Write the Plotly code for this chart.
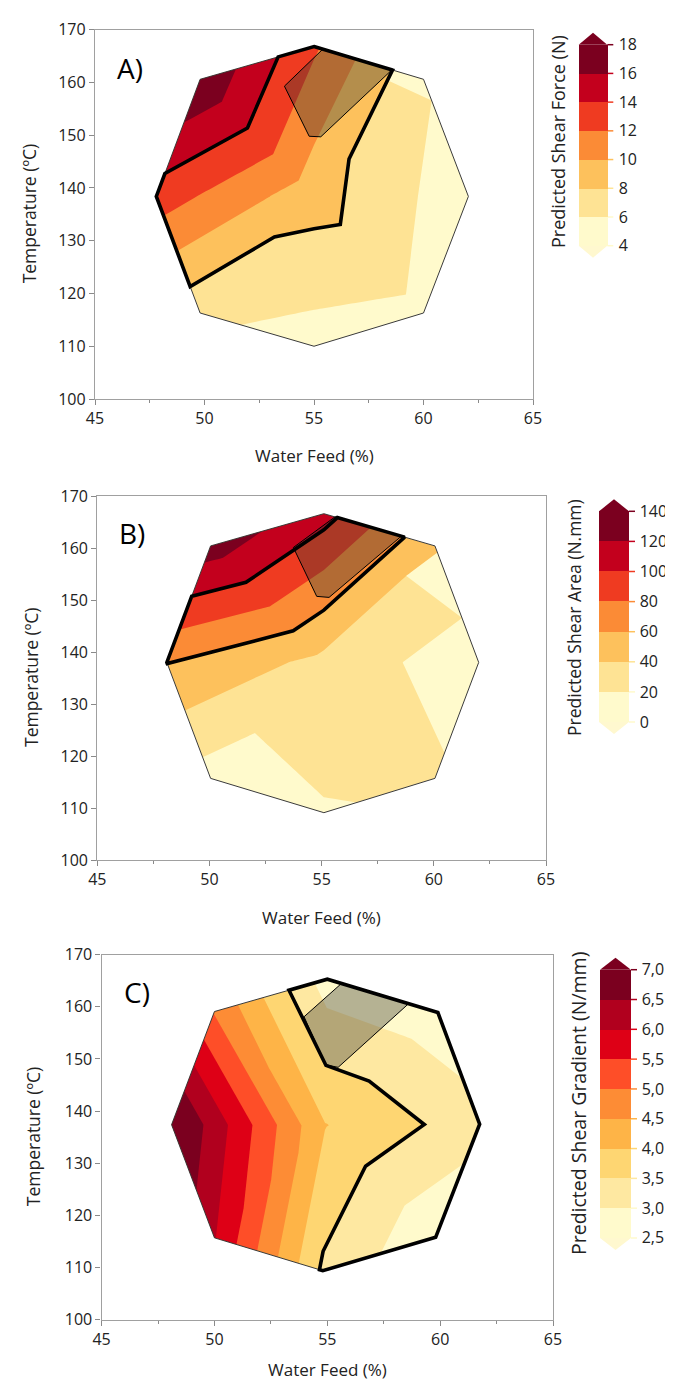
import plotly.graph_objects as go
from collections import defaultdict

W, H = 673, 1379

# ---------------- data ----------------
# design-region vertices, clockwise from the top: T, UR, R, LR, B, LL, L, UL
a_vertex_x = [55.0, 60.0, 62.05, 60.0, 55.0, 49.8, 47.8, 49.8]
a_vertex_y = [166.8, 160.6, 138.4, 116.3, 110.0, 116.3, 138.4, 160.6]
a_center_x, a_center_y = 55.0, 138.4
a_force_vertex = [12.3, 6.3, 4.64, 5.47, 5.1, 6.5, 13.1, 17.7]
a_force_center = 8.8
a_levels = [4, 6, 8, 10, 12, 14, 16, 18]
a_tick_text = ["4", "6", "8", "10", "12", "14", "16", "18"]
a_window = [8, 14]
a_limit_x = [53.65, 55.4, 58.56, 55.31, 54.78]
a_limit_y = [159.3, 166.3, 162.4, 149.7, 149.8]

b_vertex_x = [55.1, 60.05, 62.0, 60.05, 55.1, 50.05, 48.1, 50.05]
b_vertex_y = [166.6, 160.4, 138.0, 115.7, 109.1, 115.7, 138.0, 160.4]
b_center_x, b_center_y = 55.1, 138.0
b_area_vertex = [108, 42, 6.5, 23.8, 18.4, 11, 60.5, 130]
b_area_center = 34
b_levels = [0, 20, 40, 60, 80, 100, 120, 140]
b_tick_text = ["0", "20", "40", "60", "80", "100", "120", "140"]
b_window = [60, 100]
b_limit_x = [53.74, 55.6, 58.56, 55.33, 54.78]
b_limit_y = [160.1, 166.0, 162.3, 150.5, 150.7]

c_vertex_x = [55.0, 59.9, 61.75, 59.8, 54.8, 50.0, 48.1, 50.0]
c_vertex_y = [165.3, 158.9, 137.5, 115.8, 109.4, 115.7, 137.4, 159.1]
c_center_x, c_center_y = 54.9, 137.3
c_grad_vertex = [2.75, 2.69, 3.21, 2.6, 3.42, 6.03, 7.15, 4.96]
c_grad_center = 4.02
c_levels = [2.5, 3.0, 3.5, 4.0, 4.5, 5.0, 5.5, 6.0, 6.5, 7.0]
c_tick_text = ["2,5", "3,0", "3,5", "4,0", "4,5", "5,0", "5,5", "6,0", "6,5", "7,0"]
c_window = [None, 3.5]
c_limit_x = [53.97, 55.62, 58.6, 55.48, 54.92]
c_limit_y = [158.1, 164.45, 160.6, 148.4, 148.9]

x_ticks = [45, 50, 55, 60, 65]
y_ticks = [100, 110, 120, 130, 140, 150, 160, 170]

# ---------------- styles ----------------
band7 = ['#fffacc', '#fee394', '#fdc15c', '#fb8b36', '#ef3b21', '#c3001d', '#7b001f']
band9 = ['#fffacc', '#fee8a1', '#fed672', '#feb447', '#fd8c35', '#fe4e28',
         '#de0016', '#b1001e', '#7b001f']
below_col = '#fff8cf'
above_col = '#7b001f'
FONT = "Open Sans"

panels = [
    dict(key='A', vx=a_vertex_x, vy=a_vertex_y, cx=a_center_x, cy=a_center_y,
         vz=a_force_vertex, cz=a_force_center, levels=a_levels, ticktext=a_tick_text,
         window=a_window, gx=a_limit_x, gy=a_limit_y, bands=band7,
         title='Predicted Shear Force (N)', label='A)',
         plot=(87, 525, 21.7, 391), cbar=(570.7, 28.6, 36.7, 237.7),
         cbt=(550, 134, 18), ytitle_x=21, xtitle_dy=57),
    dict(key='B', vx=b_vertex_x, vy=b_vertex_y, cx=b_center_x, cy=b_center_y,
         vz=b_area_vertex, cz=b_area_center, levels=b_levels, ticktext=b_tick_text,
         window=b_window, gx=b_limit_x, gy=b_limit_y, bands=band7,
         title='Predicted Shear Area (N.mm)', label='B)',
         plot=(89.3, 538, 488, 852), cbar=(591, 30, 503.3, 714),
         cbt=(566, 610, 17.5), ytitle_x=23, xtitle_dy=57),
    dict(key='C', vx=c_vertex_x, vy=c_vertex_y, cx=c_center_x, cy=c_center_y,
         vz=c_grad_vertex, cz=c_grad_center, levels=c_levels, ticktext=c_tick_text,
         window=c_window, gx=c_limit_x, gy=c_limit_y, bands=band9,
         title='Predicted Shear Gradient (N/mm)', label='C)',
         plot=(93.6, 545, 946.7, 1311.7), cbar=(592, 31, 961.7, 1230),
         cbt=(570, 1096, 19.5), ytitle_x=25, xtitle_dy=50),
]


def fx(px):
    return px / W


def fy(py):
    return 1 - py / H


# ---------- outline of the region lo <= z <= hi on the triangulated surface ----------
def _inter(S, E, fs, fe, level):
    t = fs / (fs - fe)
    return dict(x=S['x'] + t * (E['x'] - S['x']), y=S['y'] + t * (E['y'] - S['y']),
                z=level, e=S['e'] & E['e'], lev=(S['lev'] & E['lev']) | {level})


def _clip(P, level, sign):
    out = []
    for k in range(len(P)):
        S, E = P[k - 1], P[k]
        fs, fe = sign * (S['z'] - level), sign * (E['z'] - level)
        if fe >= 0:
            if fs < 0:
                out.append(_inter(S, E, fs, fe, level))
            out.append(E)
        elif fs >= 0:
            out.append(_inter(S, E, fs, fe, level))
    return out


def _chain(segs):
    key = lambda p: (round(p[0], 6), round(p[1], 6))
    adj = defaultdict(list)
    for i, (p, q) in enumerate(segs):
        adj[key(p)].append(i)
        adj[key(q)].append(i)
    used = [False] * len(segs)
    xs, ys = [], []
    for s in range(len(segs)):
        if used[s]:
            continue
        used[s] = True
        path = [segs[s][0], segs[s][1]]
        for end in (1, 0):
            while True:
                k = key(path[-1] if end else path[0])
                nxt = None
                for i in adj[k]:
                    if not used[i]:
                        nxt = i
                        break
                if nxt is None:
                    break
                used[nxt] = True
                p, q = segs[nxt]
                new = q if key(p) == k else p
                if end:
                    path.append(new)
                else:
                    path.insert(0, new)
        if key(path[0]) == key(path[-1]) and len(path) > 2:
            path.append(path[1])
        xs += [p[0] for p in path] + [None]
        ys += [p[1] for p in path] + [None]
    return xs, ys


def band_outline(cx, cy, cz, vx, vy, vz, lo, hi):
    segs = []
    n = len(vx)
    for i in range(n):
        j = (i + 1) % n
        P = [dict(x=cx, y=cy, z=cz, e={0, 2}, lev=set()),
             dict(x=vx[i], y=vy[i], z=vz[i], e={0, 1}, lev=set()),
             dict(x=vx[j], y=vy[j], z=vz[j], e={1, 2}, lev=set())]
        for level, sign in ((lo, 1), (hi, -1)):
            if level is None or not P:
                continue
            P = _clip(P, level, sign)
        if len(P) < 3:
            continue
        m = len(P)
        for k in range(m):
            p, q = P[k], P[(k + 1) % m]
            if (p['lev'] & q['lev']) or (1 in (p['e'] & q['e'])):
                segs.append(((p['x'], p['y']), (q['x'], q['y'])))
    return _chain(segs)


fig = go.Figure()
shapes, annotations = [], []
layout_axes = {}

for idx, p in enumerate(panels):
    sfx = '' if idx == 0 else str(idx + 1)
    xa, ya = 'x' + sfx, 'y' + sfx
    cid = 'carpet' + p['key']
    n = len(p['vx'])
    a_idx = list(range(n + 1))
    cx_row = [p['cx']] * (n + 1)
    cy_row = [p['cy']] * (n + 1)
    vx_row = p['vx'] + [p['vx'][0]]
    vy_row = p['vy'] + [p['vy'][0]]
    z_grid = [[p['cz']] * (n + 1), p['vz'] + [p['vz'][0]]]

    hidden = dict(showgrid=False, showline=False, showticklabels='none', startline=False,
                  endline=False, minorgridcount=0, smoothing=0)
    fig.add_trace(go.Carpet(carpet=cid, a=a_idx, b=[0, 1], x=[cx_row, vx_row], y=[cy_row, vy_row],
                            aaxis=hidden, baxis=hidden, xaxis=xa, yaxis=ya))

    levels = p['levels']
    lo, hi = levels[0], levels[-1]
    step = levels[1] - levels[0]
    nc = len(levels)
    fill_cols = [below_col] + p['bands'] + [above_col]
    cscale = [[k / nc, c] for k, c in enumerate(fill_cols)]
    fig.add_trace(go.Contourcarpet(carpet=cid, a=a_idx, b=[0, 1], z=z_grid, autocontour=False,
                                   contours=dict(start=lo, end=hi, size=step, coloring='fill',
                                                 showlines=False),
                                   line=dict(width=0, smoothing=0), colorscale=cscale,
                                   showscale=False, xaxis=xa, yaxis=ya))

    # thin outline of the design region
    fig.add_trace(go.Scatter(x=vx_row, y=vy_row, mode='lines',
                             line=dict(color='#3a3a3a', width=1), xaxis=xa, yaxis=ya,
                             hoverinfo='skip', showlegend=False))

    # shaded region of another constraint
    fig.add_trace(go.Scatter(x=p['gx'] + [p['gx'][0]], y=p['gy'] + [p['gy'][0]], mode='lines',
                             fill='toself', fillcolor='rgba(55,55,50,0.37)',
                             line=dict(color='black', width=1), xaxis=xa, yaxis=ya,
                             hoverinfo='skip', showlegend=False))

    # bold outline of the acceptable window
    bx, by = band_outline(p['cx'], p['cy'], p['cz'], p['vx'], p['vy'], p['vz'],
                          p['window'][0], p['window'][1])
    fig.add_trace(go.Scatter(x=bx, y=by, mode='lines', line=dict(color='black', width=3.6),
                             xaxis=xa, yaxis=ya, hoverinfo='skip', showlegend=False))

    # colour bar (discrete)
    x0, th, top, bot = p['cbar']
    nb = len(p['bands'])
    cb_scale = []
    for k, c in enumerate(p['bands']):
        cb_scale += [[k / nb, c], [(k + 1) / nb, c]]
    fig.add_trace(go.Scatter(
        x=[None], y=[None], mode='markers', xaxis=xa, yaxis=ya, hoverinfo='skip', showlegend=False,
        marker=dict(color=[lo], cmin=lo, cmax=hi, colorscale=cb_scale, showscale=True,
                    colorbar=dict(x=fx(x0), xanchor='left', xpad=0, ypad=0,
                                  y=fy((top + bot) / 2), yanchor='middle',
                                  len=bot - top, lenmode='pixels', thickness=th,
                                  thicknessmode='pixels', outlinewidth=0,
                                  tickmode='array', tickvals=levels, ticktext=p['ticktext'],
                                  ticks='outside', ticklen=8, tickcolor='rgba(0,0,0,0)',
                                  tickfont=dict(family=FONT, size=16, color='#222')))))
    # arrows at both ends of the colour bar
    tip = 12
    shapes.append(dict(type='path', xref='paper', yref='paper', line=dict(width=0),
                       fillcolor=above_col,
                       path=f"M {fx(x0)},{fy(top)} L {fx(x0 + th)},{fy(top)} "
                            f"L {fx(x0 + th / 2)},{fy(top - tip)} Z"))
    shapes.append(dict(type='path', xref='paper', yref='paper', line=dict(width=0),
                       fillcolor=below_col,
                       path=f"M {fx(x0)},{fy(bot)} L {fx(x0 + th)},{fy(bot)} "
                            f"L {fx(x0 + th / 2)},{fy(bot + tip)} Z"))
    # coloured tick marks
    for k, L in enumerate(levels):
        ypx = bot - (L - lo) / (hi - lo) * (bot - top)
        col = p['bands'][max(k - 1, 0)]
        shapes.append(dict(type='line', xref='paper', yref='paper',
                           x0=fx(x0 + th), x1=fx(x0 + th + 6), y0=fy(ypx), y1=fy(ypx),
                           line=dict(color=col, width=1.5)))

    # axes
    l, r, t, b = p['plot']
    common = dict(showline=True, linecolor='#a0a0a0', linewidth=1.3, mirror=True,
                  showgrid=False, zeroline=False, ticks='outside', ticklen=5,
                  tickcolor='#8a8a8a', tickwidth=1,
                  tickfont=dict(family=FONT, size=16, color='#222'))
    layout_axes['xaxis' + sfx] = dict(common, domain=[fx(l), fx(r)], anchor=ya, range=[45, 65],
                                      tickmode='array', tickvals=x_ticks,
                                      minor=dict(ticks='outside', ticklen=3, dtick=2.5,
                                                 tickcolor='#8a8a8a'))
    layout_axes['yaxis' + sfx] = dict(common, domain=[fy(b), fy(t)], anchor=xa, range=[100, 170],
                                      tickmode='array', tickvals=y_ticks)

    # texts
    annotations.append(dict(text='Water Feed (%)', x=fx((l + r) / 2), y=fy(b + p['xtitle_dy']),
                            xref='paper', yref='paper', showarrow=False,
                            xanchor='center', yanchor='middle',
                            font=dict(family=FONT, size=17, color='#222')))
    annotations.append(dict(text='Temperature (ºC)', x=fx(p['ytitle_x']), y=fy((t + b) / 2),
                            xref='paper', yref='paper', showarrow=False, textangle=-90,
                            xanchor='center', yanchor='middle',
                            font=dict(family=FONT, size=17.5, color='#222')))
    cbx, cby, cbs = p['cbt']
    annotations.append(dict(text=p['title'], x=fx(cbx), y=fy(cby), xref='paper', yref='paper',
                            showarrow=False, textangle=-90, xanchor='center', yanchor='middle',
                            font=dict(family=FONT, size=cbs, color='#222')))
    annotations.append(dict(text=p['label'], x=45.9, y=162.8, xref=xa, yref=ya,
                            showarrow=False, xanchor='left', yanchor='middle',
                            font=dict(family=FONT, size=28, color='black')))

fig.update_layout(width=W, height=H, margin=dict(l=0, r=0, t=0, b=0),
                  paper_bgcolor='white', plot_bgcolor='white', showlegend=False,
                  font=dict(family=FONT, color='#222'), template='none',
                  shapes=shapes, annotations=annotations, **layout_axes)

fig.write_html("out.html")
